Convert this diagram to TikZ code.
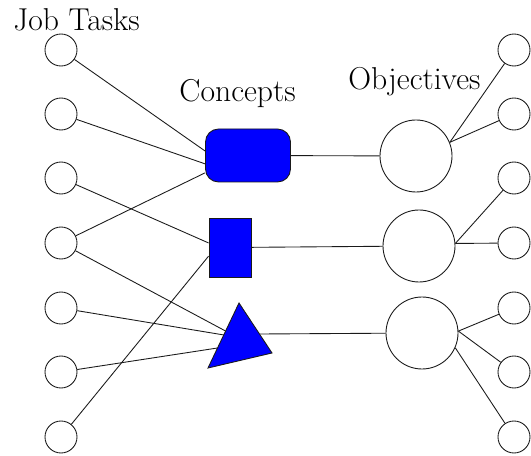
\documentclass[tikz,border=0pt]{standalone}
\usepackage{tikz}
\definecolor{blue1}{HTML}{0000FF}
\definecolor{line1}{HTML}{1A1A1A}

\begin{document}
\begin{tikzpicture}[line width=0.5pt,draw=line1,
  task/.style={draw=line1,circle,minimum size=0.64cm,inner sep=0pt},
  goal/.style={draw=line1,circle,minimum size=1.44cm,inner sep=0pt},
  concept/.style={draw=line1,fill=blue1,inner sep=0pt},
  head/.style={anchor=base west,inner sep=0pt,font=\fontsize{18}{22}\selectfont}]
\useasboundingbox (0,0) rectangle (10.62,9.12);
\node[head] (h1) at (0.26,8.5) {Job Tasks};
\node[head] (h2) at (3.58,7.08) {Concepts};
\node[head] (h3) at (6.96,7.32) {Objectives};
% job tasks
\node[task] (t1) at (1.22,8.12) {};
\node[task] (t2) at (1.22,6.84) {};
\node[task] (t3) at (1.22,5.56) {};
\node[task] (t4) at (1.22,4.26) {};
\node[task] (t5) at (1.22,2.96) {};
\node[task] (t6) at (1.22,1.68) {};
\node[task] (t7) at (1.22,0.38) {};
% concepts
\node[concept,rounded corners=0.26cm,minimum width=1.7cm,minimum height=1.06cm] (c1) at (4.96,6.01) {};
\node[concept,minimum width=0.84cm,minimum height=1.18cm] (c2) at (4.6,4.17) {};
\filldraw[draw=line1,fill=blue1] (4.78,3.06) coordinate (c3a) -- (4.16,1.76) coordinate (c3b) -- (5.44,2.06) coordinate (c3c) -- cycle;
\coordinate (c3in1) at (4.51,2.5);
\coordinate (c3in2) at (4.48,2.42);
\coordinate (c3in3) at (4.35,2.16);
\coordinate (c3out) at (5.19,2.44);
% objectives
\node[goal] (o1) at (8.32,6.0) {};
\node[goal] (o2) at (8.38,4.2) {};
\node[goal] (o3) at (8.44,2.46) {};
\node[task] (r1) at (10.28,8.12) {};
\node[task] (r2) at (10.28,6.84) {};
\node[task] (r3) at (10.28,5.56) {};
\node[task] (r4) at (10.28,4.26) {};
\node[task] (r5) at (10.28,2.96) {};
\node[task] (r6) at (10.28,1.68) {};
\node[task] (r7) at (10.28,0.38) {};
%
\draw (t1) -- (c1.174);
\draw (t2) -- (c1.191);
\draw (t3) -- (c2.168);
\draw (t4) -- (c1.202);
\draw (t4) -- (c3in1);
\draw (t5) -- (c3in2);
\draw (t6) -- (c3in3);
\draw (t7) -- (c2.202);
%
\draw (c1) -- (o1);
\draw (c2) -- (o2);
\draw (c3out) -- (o3);
%
\draw (o1.22) -- (r1);
\draw (o1.22) -- (r2);
\draw (o2.4) -- (r3);
\draw (o2.4) -- (r4);
\draw (o3.3) -- (r5);
\draw (o3.3) -- (r6);
\draw (o3.-24) -- (r7);
\end{tikzpicture}
\end{document}
